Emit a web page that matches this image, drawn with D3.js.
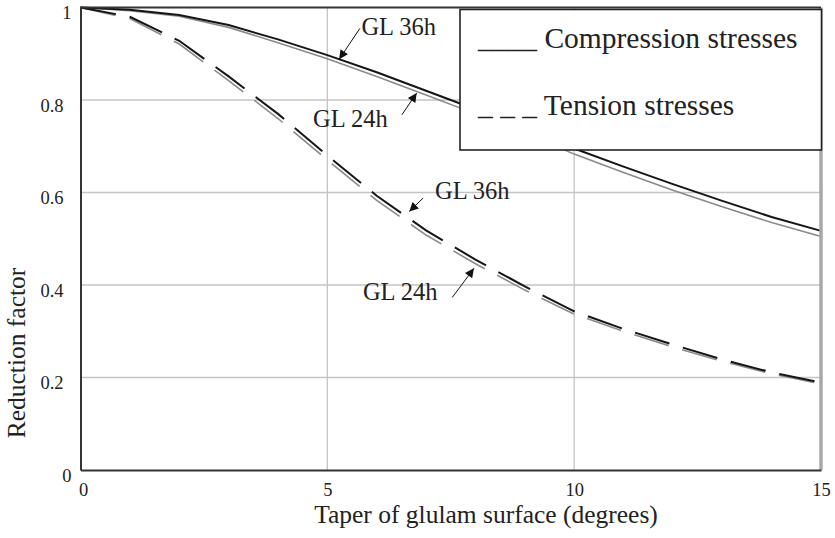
<!DOCTYPE html>
<html>
<head>
<meta charset="utf-8">
<script src="https://cdn.jsdelivr.net/npm/d3@7"></script>
<style>
  html, body { margin: 0; padding: 0; background: #fff; }
  svg { display: block; font-family: "Liberation Serif", "Times New Roman", serif; }
</style>
</head>
<body>
<svg id="chart" width="835" height="538"></svg>
<script>
// Taper angle of the glulam surface, degrees
const taper = [0, 1, 2, 3, 4, 5, 6, 7, 8, 9, 10, 11, 12, 13, 14, 15];

// Reduction factors, compression stresses
const compGL36h = [1.0, 0.995, 0.984, 0.962, 0.931, 0.897, 0.860, 0.820, 0.780, 0.740, 0.695, 0.656, 0.618, 0.582, 0.547, 0.517];
const compGL24h = [1.0, 0.993, 0.981, 0.957, 0.924, 0.889, 0.851, 0.811, 0.770, 0.729, 0.683, 0.643, 0.605, 0.569, 0.535, 0.505];

// Reduction factors, tension stresses
const tensGL36h = [1.0, 0.980, 0.928, 0.851, 0.770, 0.680, 0.593, 0.518, 0.455, 0.397, 0.343, 0.305, 0.271, 0.239, 0.211, 0.189];
const tensGL24h = [1.0, 0.976, 0.921, 0.842, 0.760, 0.670, 0.583, 0.508, 0.446, 0.389, 0.337, 0.300, 0.266, 0.235, 0.208, 0.186];

const xTicks = [0, 5, 10, 15];
const yTicks = [0, 0.2, 0.4, 0.6, 0.8, 1];
const yTickLabels = ["0", "0.2", "0.4", "0.6", "0.8", "1"];

const legendLabels = ["____ Compression stresses", "_ _ _ Tension stresses"];

// Callouts: label text, label anchor, arrow tail and arrow tip (degrees, factor)
const callouts = [
  { text: "GL 36h", tx: 5.69, ty: 0.940, x0: 5.66, y0: 0.955, x1: 5.24, y1: 0.888 },
  { text: "GL 24h", tx: 4.71, ty: 0.742, x0: 6.51, y0: 0.768, x1: 6.81, y1: 0.815 },
  { text: "GL 36h", tx: 7.18, ty: 0.585, x0: 6.94, y0: 0.588, x1: 6.66, y1: 0.559 },
  { text: "GL 24h", tx: 5.72, ty: 0.368, x0: 7.53, y0: 0.373, x1: 7.97, y1: 0.436 }
];

const FONT = '"Liberation Serif", "Times New Roman", serif';
const svg = d3.select("#chart");
const plotL = 80.5, plotR = 821, plotT = 7.5, plotB = 470;

const x = d3.scaleLinear().domain([0, 15]).range([plotL, plotR]);
const y = d3.scaleLinear().domain([0, 1]).range([plotB, plotT]);

// arrowhead
svg.append("defs").append("marker")
  .attr("id", "arrow")
  .attr("viewBox", "0 0 10 10")
  .attr("refX", 10).attr("refY", 5)
  .attr("markerWidth", 13).attr("markerHeight", 9)
  .attr("markerUnits", "userSpaceOnUse")
  .attr("orient", "auto")
  .append("path").attr("d", "M0,0 L10,5 L0,10 Z").attr("fill", "#111");

// grid
const grid = svg.append("g");
grid.selectAll(".gx").data(xTicks.filter(d => d > 0 && d < 15)).join("line")
  .attr("x1", d => x(d)).attr("x2", d => x(d))
  .attr("y1", plotT).attr("y2", plotB)
  .attr("stroke", "#c4c4c4").attr("stroke-width", 1.3);
grid.selectAll(".gy").data(yTicks.filter(d => d > 0 && d < 1)).join("line")
  .attr("x1", plotL).attr("x2", plotR)
  .attr("y1", d => y(d)).attr("y2", d => y(d))
  .attr("stroke", "#c4c4c4").attr("stroke-width", 1.3);

// curves
const line = vals => d3.line().x((d, i) => x(taper[i])).y(d => y(d))(vals);
const series = [
  { v: compGL24h, c: "#8a8a8a", w: 1.6, dash: null },
  { v: compGL36h, c: "#151515", w: 2, dash: null },
  { v: tensGL24h, c: "#8a8a8a", w: 1.6, dash: "36,14" },
  { v: tensGL36h, c: "#151515", w: 2, dash: "36,14" }
];
svg.append("g").selectAll("path").data(series).join("path")
  .attr("d", d => line(d.v))
  .attr("fill", "none")
  .attr("stroke", d => d.c)
  .attr("stroke-width", d => d.w)
  .attr("stroke-dasharray", d => d.dash);

// frame
svg.append("line").attr("x1", plotR).attr("x2", plotR).attr("y1", plotT).attr("y2", plotB)
  .attr("stroke", "#a8a8a8").attr("stroke-width", 3.5);
svg.append("line").attr("x1", plotL).attr("x2", plotR).attr("y1", plotT).attr("y2", plotT)
  .attr("stroke", "#333").attr("stroke-width", 2);

// axes
const xAxis = svg.append("g").attr("transform", `translate(0,${plotB})`)
  .call(d3.axisBottom(x).tickValues(xTicks).tickSize(0).tickPadding(0).tickFormat(d3.format("d")));
xAxis.attr("font-size", null).attr("font-family", null);
xAxis.select(".domain").attr("stroke", "#333").attr("stroke-width", 2);
xAxis.selectAll(".tick text")
  .attr("dy", null)
  .attr("y", 26)
  .attr("x", d => d === 0 ? 2.5 : 0)
  .style("font-size", "18.5px")
  .style("font-family", FONT)
  .attr("fill", "#222");

const yAxis = svg.append("g").attr("transform", `translate(${plotL},0)`)
  .call(d3.axisLeft(y).tickValues(yTicks).tickSize(0).tickPadding(0)
    .tickFormat(d => yTickLabels[yTicks.indexOf(d)]));
yAxis.attr("font-size", null).attr("font-family", null);
yAxis.select(".domain").attr("stroke", "#333").attr("stroke-width", 2);
yAxis.selectAll(".tick text")
  .attr("dy", null)
  .attr("y", 11)
  .attr("x", d => (d === 0 || d === 1) ? -9 : -17)
  .style("font-size", "18.5px")
  .style("font-family", FONT)
  .attr("fill", "#222");

// axis titles
svg.append("text").attr("x", 486).attr("y", 523)
  .attr("text-anchor", "middle").style("font-size", "25.5px").attr("fill", "#222")
  .text("Taper of glulam surface (degrees)");
svg.append("text").attr("transform", "translate(25,353) rotate(-90)")
  .attr("text-anchor", "middle").style("font-size", "25.5px").attr("fill", "#222")
  .text("Reduction factor");

// callouts
const cg = svg.append("g");
cg.selectAll("line").data(callouts).join("line")
  .attr("x1", d => x(d.x0)).attr("y1", d => y(d.y0))
  .attr("x2", d => x(d.x1)).attr("y2", d => y(d.y1))
  .attr("stroke", "#111").attr("stroke-width", 1)
  .attr("marker-end", "url(#arrow)");
cg.selectAll("text").data(callouts).join("text")
  .attr("x", d => x(d.tx)).attr("y", d => y(d.ty))
  .style("font-size", "24.5px").attr("fill", "#222")
  .text(d => d.text);

// legend
const lg = svg.append("g");
lg.append("rect").attr("x", 460).attr("y", 9.5).attr("width", 361.5).attr("height", 140.5)
  .attr("fill", "#fff").attr("stroke", "#222").attr("stroke-width", 1.6);
lg.selectAll("text").data(legendLabels).join("text")
  .attr("x", 478).attr("y", (d, i) => 48 + i * 67)
  .style("font-size", "29.5px").attr("fill", "#222")
  .style("white-space", "pre")
  .text(d => d);
</script>
</body>
</html>
